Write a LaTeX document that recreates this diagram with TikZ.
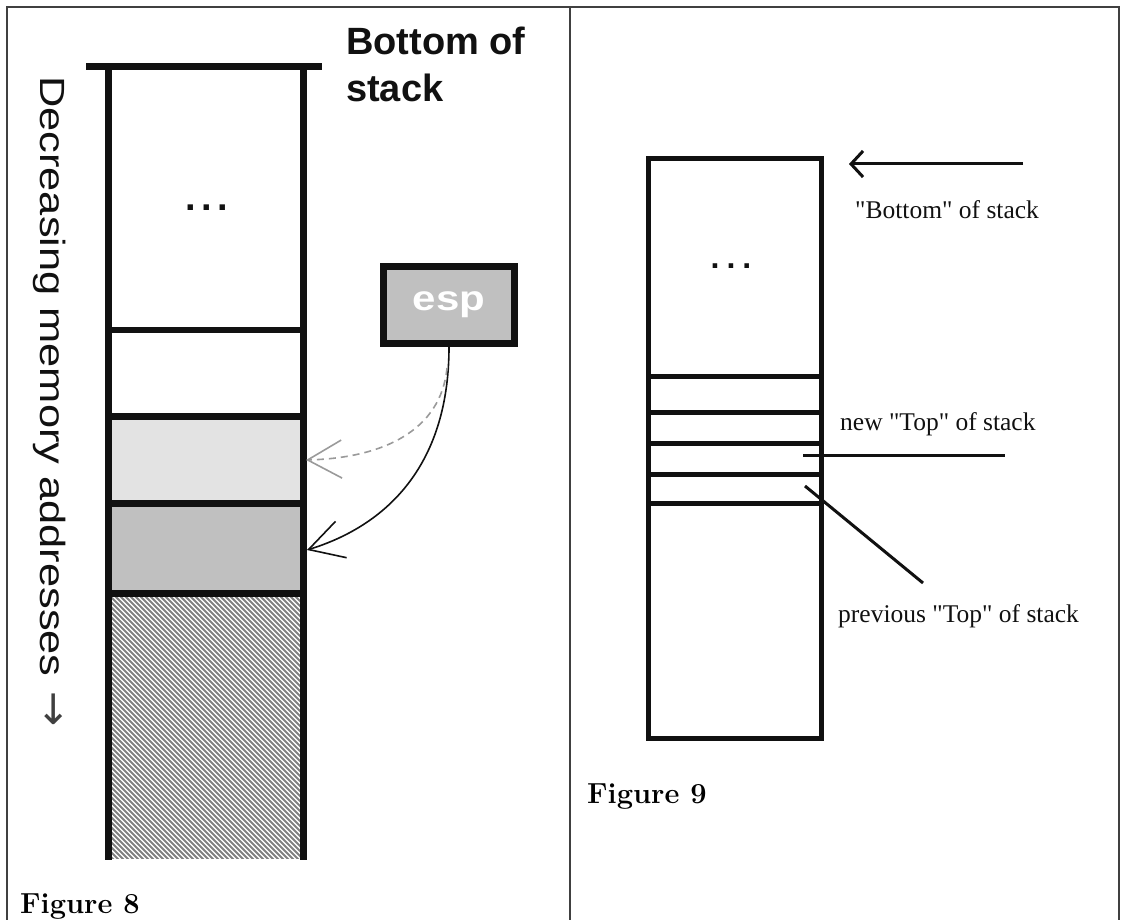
\documentclass[tikz,border=0pt]{standalone}
\usepackage{fontspec}
\usepackage{graphicx}
\usetikzlibrary{arrows.meta}
\newfontfamily\arialf{Liberation Sans}
\newfontfamily\serifr{Liberation Serif}
\newfontfamily\dejavu{DejaVu Sans}
\definecolor{fillgray}{HTML}{C0C0C0}
\definecolor{lightfill}{HTML}{E3E3E3}
\definecolor{hatchgray}{HTML}{808080}
\definecolor{framegray}{HTML}{404040}
\definecolor{dashgray}{HTML}{9A9A9A}
\definecolor{inkblack}{HTML}{111111}
\begin{document}
\begin{tikzpicture}[x=1pt,y=-1pt,
  wall/.style={line width=6.5pt, inkblack},
  rwall/.style={line width=5pt, inkblack},
  thinline/.style={line width=3pt, inkblack},
  esparrow/.style={line width=1.6pt, -{Straight Barb[length=34pt,width=38pt]}},
  sanslabel/.style={inner sep=0pt, font=\arialf\bfseries\fontsize{38}{47.5}\selectfont, inkblack},
  seriflabel/.style={inner sep=0pt, anchor=base west, font=\serifr\fontsize{25.5}{30}\selectfont, inkblack},
  figlabel/.style={inner sep=0pt, anchor=base west, font=\bfseries\fontsize{29}{34}\selectfont}
]
\useasboundingbox (0,0) rectangle (1126,920);
% table frame
\draw[framegray, line width=1.3pt] (7,920) -- (7,7) -- (1119,7) -- (1119,920);
\draw[framegray, line width=1.3pt] (570,7) -- (570,920);

% ---------- Figure 8 ----------
\fill[lightfill] (108,416) rectangle (304,504);
\fill[fillgray] (108,503) rectangle (304,594);
\begin{scope}
  \clip (111,596) rectangle (301,858);
  \foreach \k in {0,...,96}
    \draw[hatchgray, line width=1.9pt] ({-160+\k*5},596) -- ++(270,270);
\end{scope}
\draw[wall] (108.5,67) -- (108.5,860);
\draw[wall] (303.5,67) -- (303.5,860);
\draw[line width=7pt, inkblack] (86,67) -- (322,67);
\foreach \yy in {330,416.5,503.5,593.5}
  \draw[wall] (108.5,\yy) -- (303.5,\yy);

\node[sanslabel, anchor=base] (ldots) at (207,210) {.\hspace{5.5pt}.\hspace{5.5pt}.};
\node[sanslabel, anchor=base west, align=left] (bos) at (346,102) {Bottom of\\stack};

\node[draw=inkblack, line width=6.5pt, fill=fillgray, minimum width=131pt, minimum height=77pt,
      inner sep=0pt, text=white, font=\arialf\bfseries\fontsize{35}{40}\selectfont] (esp) at (449,305)
      {\raisebox{-4pt}{\scalebox{1.2}[1]{esp}}};

\coordinate (tipB) at (307,550);
\coordinate (tipA) at (306,460);
\coordinate (dstart) at (447,368);
\draw[esparrow, inkblack] (esp.south) .. controls (449,470) and (382,527) .. (tipB);
\draw[esparrow, dashgray, dash pattern=on 7pt off 5pt] (dstart) .. controls (441,430) and (384,458) .. (tipA);

\node[rotate=-90, anchor=base west, inner sep=0pt, font=\arialf\fontsize{35}{40}\selectfont, inkblack] (dec) at (40,76)
  {\scalebox{1.24}[1]{Decreasing memory addresses}\hspace{15pt}{\dejavu\color{framegray}\fontsize{42}{44}\selectfont →}};

\node[figlabel] (fig8) at (20,913) {Figure 8};

% ---------- Figure 9 ----------
\draw[rwall] (648,159) rectangle (821,738);
\foreach \yy in {376.7,412.5,443.3,474,503}
  \draw[rwall] (648,\yy) -- (821,\yy);

\node[inner sep=0pt, anchor=base, font=\arialf\bfseries\fontsize{32}{36}\selectfont, inkblack] (rdots) at (731,268) {.\hspace{7pt}.\hspace{7pt}.};

\coordinate (bstart) at (1023,164);
\coordinate (btip) at (849,164);
\draw[thinline, -{Straight Barb[length=12pt,width=26pt]}] (bstart) -- (btip);
\node[seriflabel] (lbot) at (855,218) {"Bottom" of stack};

\coordinate (ntA) at (803,455);
\coordinate (ntB) at (1005,455);
\draw[thinline] (ntA) -- (ntB);
\node[seriflabel] (lnew) at (840,430) {new "Top" of stack};

\coordinate (ptA) at (805,486);
\coordinate (ptB) at (923,583);
\draw[thinline] (ptA) -- (ptB);
\node[seriflabel] (lprev) at (838,622) {previous "Top" of stack};

\node[figlabel] (fig9) at (587,803) {Figure 9};
\end{tikzpicture}
\end{document}
